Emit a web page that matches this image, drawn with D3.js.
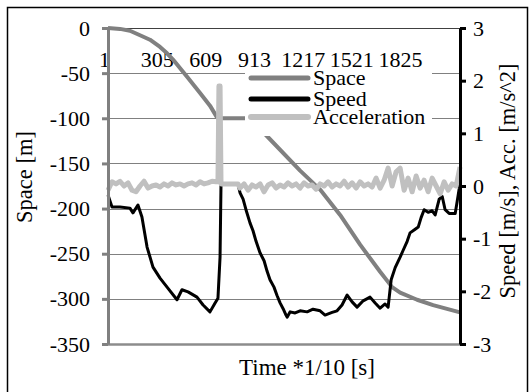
<!DOCTYPE html>
<html>
<head>
<meta charset="utf-8">
<script src="https://cdn.jsdelivr.net/npm/d3@7"></script>
<style>
  body { margin: 0; background: #fff; }
</style>
</head>
<body>
<div id="chart"></div>
<script>
// samples are numbered 1..N (time * 1/10 s)
const N = 2200;
const xTickValues = [1, 305, 609, 913, 1217, 1521, 1825];
const spaceTicks = [0, -50, -100, -150, -200, -250, -300, -350];
const speedTicks = [3, 2, 1, 0, -1, -2, -3];

// Space [m], left axis
const spaceT = [1, 76, 138, 201, 263, 326, 370, 407, 495, 576, 638, 682, 713, 888, 1001, 1201, 1326, 1451, 1576, 1701, 1776, 1826, 1932, 2032, 2200];
const spaceV = [0, -1, -3, -8, -13, -21, -28, -35, -54, -72, -86, -99, -100, -100, -121, -158, -179, -207, -240, -270, -287, -293, -301, -307, -315];

// Speed [m/s], right axis
const speedT = [1, 26, 76, 138, 157, 188, 213, 245, 282, 326, 370, 432, 463, 501, 557, 595, 638, 670, 688, 701, 707, 763, 813,
  826, 845, 863, 888, 907, 926, 951, 976, 995, 1013, 1038, 1057, 1076, 1095, 1113,
  1120, 1139, 1170, 1201, 1245, 1282, 1326, 1357, 1401, 1432, 1463, 1495, 1526, 1557, 1595, 1638, 1670, 1701, 1732, 1751, 1770,
  1795, 1826, 1845, 1870, 1888, 1920, 1939, 1957, 1976, 2001, 2026, 2045, 2070, 2089, 2107, 2132, 2170, 2182, 2195, 2200];
const speedV = [-0.17, -0.40, -0.40, -0.42, -0.51, -0.36, -0.59, -1.16, -1.54, -1.75, -1.92, -2.16, -1.97, -2.01, -2.11, -2.26, -2.39, -2.22, -2.13, -1.35, 0.04, 0.04, 0.04,
  -0.13, -0.25, -0.45, -0.70, -0.85, -1.05, -1.27, -1.42, -1.62, -1.78, -1.92, -2.08, -2.22, -2.33, -2.45,
  -2.49, -2.39, -2.41, -2.37, -2.39, -2.34, -2.37, -2.45, -2.40, -2.37, -2.26, -2.07, -2.20, -2.30, -2.18, -2.11, -2.22, -2.32, -2.24, -2.30, -1.78,
  -1.55, -1.35, -1.22, -1.05, -0.89, -0.82, -0.78, -0.60, -0.45, -0.50, -0.47, -0.55, -0.25, -0.20, -0.45, -0.52, -0.52, -0.30, -0.05, 0.10];

// Acceleration [m/s^2], right axis
const accT = [1, 26, 51, 76, 101, 126, 151, 176, 201, 226, 251, 276, 301, 326, 351, 376, 401, 426, 451, 476, 501, 526, 551, 576, 601, 626, 651, 676, 688, 694, 701, 707,
  813, 826, 851, 876, 901, 926, 951, 976, 1001, 1026, 1051, 1076, 1101, 1126, 1151, 1176, 1201, 1226, 1251, 1276, 1301, 1326, 1351, 1376, 1401, 1426, 1451, 1476,
  1501, 1526, 1551, 1576, 1601, 1626, 1651, 1676, 1701, 1726, 1751, 1776, 1801, 1826, 1851, 1876, 1901, 1926, 1951, 1976, 2001, 2026, 2051, 2076, 2101, 2126, 2151, 2176, 2200];
const accV = [-0.08, 0.08, 0.04, 0.09, 0.00, 0.06, -0.08, -0.11, 0.00, 0.09, -0.04, 0.00, 0.02, -0.02, 0.04, 0.00, 0.06, 0.02, 0.04, 0.00, 0.04, 0.06, 0.02, 0.08, 0.04, 0.06, 0.09, 0.08, 0.08, 1.90, 1.90, 0.04,
  0.04, -0.04, 0.04, -0.08, 0.02, -0.02, 0.04, -0.11, 0.02, 0.06, -0.04, 0.02, -0.02, 0.06, 0.00, 0.04, -0.04, 0.06, 0.00, 0.02, -0.06, 0.04, 0.00, 0.08, -0.02, 0.04, 0.00, 0.09,
  -0.02, 0.06, -0.04, 0.08, 0.00, 0.04, -0.02, 0.15, -0.04, 0.11, 0.34, 0.00, 0.27, 0.34, -0.08, 0.15, -0.11, 0.19, -0.04, 0.11, -0.11, 0.15, 0.00, -0.15, 0.08, -0.08, 0.04, 0.00, 0.36];

const seriesNames = ['Space', 'Speed', 'Acceleration'];
const colors = { Space: '#808080', Speed: '#000000', Acceleration: '#c0c0c0' };
const widths = { Space: 4, Speed: 3, Acceleration: 5 };

const font = '"Liberation Serif", "Times New Roman", serif';

const width = 532;
const height = 392;
const margin = { top: 28, right: 72, bottom: 48, left: 108 };
const w = width - margin.left - margin.right;
const h = height - margin.top - margin.bottom;

const svg = d3.select('#chart')
  .append('svg')
    .attr('width', width)
    .attr('height', height);

// outer frame (bottom edge is off the picture)
svg.append('rect')
  .attr('x', 7.5).attr('y', 7.5)
  .attr('width', 520).attr('height', 400)
  .attr('fill', 'none')
  .attr('stroke', '#000')
  .attr('stroke-width', 1.5);

const g = svg.append('g')
  .attr('transform', `translate(${margin.left}, ${margin.top})`);

const xScale = d3.scaleLinear().domain([1, N]).range([0, w]);
const yLeft = d3.scaleLinear().domain([-350, 0]).range([h, 0]);
const yRight = d3.scaleLinear().domain([-3, 3]).range([h, 0]);

function styleText(sel, size) {
  sel.style('font-family', font)
    .style('font-size', size + 'px')
    .style('fill', '#000');
}

// gridlines
g.append('g')
  .selectAll('line')
  .data(spaceTicks)
  .enter().append('line')
    .attr('x1', 0).attr('x2', w)
    .attr('y1', d => Math.round(yLeft(d)) + 0.5)
    .attr('y2', d => Math.round(yLeft(d)) + 0.5)
    .attr('stroke', d => d === -350 ? '#8c8c8c' : '#808080')
    .attr('stroke-width', d => d === -350 ? 2.5 : 1);

// category labels next to the zero line
const xAxis = g.append('g')
  .call(d3.axisBottom(xScale).tickValues(xTickValues).tickSize(0).tickPadding(23).tickFormat(d3.format('d')));
xAxis.select('.domain').attr('stroke', '#404040').attr('stroke-width', 1);
xAxis.selectAll('text').call(styleText, 22);
xAxis.selectAll('text').filter(d => d === 1).attr('dx', -4);

// series
const line = (t, v, y) => d3.line()
  .x((d, i) => xScale(t[i]))
  .y((d, i) => y(v[i]))(v);

const series = [
  { name: 'Space', path: line(spaceT, spaceV, yLeft) },
  { name: 'Speed', path: line(speedT, speedV, yRight) },
  { name: 'Acceleration', path: line(accT, accV, yRight) }
];

g.append('g')
  .selectAll('path')
  .data(series)
  .enter().append('path')
    .attr('d', d => d.path)
    .attr('fill', 'none')
    .attr('stroke', d => colors[d.name])
    .attr('stroke-width', d => widths[d.name])
    .attr('stroke-linejoin', 'round');

// legend
const legend = g.append('g').attr('transform', 'translate(137, 41)');
legend.append('rect')
  .attr('width', 187).attr('height', 67)
  .attr('fill', '#fff');
const rowY = [9, 30, 48];
const item = legend.selectAll('.item')
  .data(seriesNames)
  .enter().append('g')
    .attr('class', 'item')
    .attr('transform', (d, i) => `translate(0, ${rowY[i]})`);
item.append('line')
  .attr('x1', 6).attr('x2', 63)
  .attr('stroke', d => colors[d])
  .attr('stroke-width', d => Math.max(widths[d], 4) + 1)
  .attr('stroke-linecap', 'round');
item.append('text')
  .attr('x', 68)
  .attr('dy', '0.32em')
  .text(d => d)
  .call(styleText, 22);

// axes
const leftAxis = g.append('g')
  .call(d3.axisLeft(yLeft).tickValues(spaceTicks).tickSize(6).tickSizeOuter(0).tickPadding(12).tickFormat(d => String(d)));
leftAxis.select('.domain').attr('stroke', '#808080').attr('stroke-width', 3);
leftAxis.selectAll('.tick line').attr('stroke', '#808080').attr('stroke-width', 3);
leftAxis.selectAll('text').call(styleText, 22);

const rightAxis = g.append('g')
  .attr('transform', `translate(${w}, 0)`)
  .call(d3.axisRight(yRight).tickValues(speedTicks).tickSize(6).tickSizeOuter(0).tickPadding(7).tickFormat(d => String(d)));
rightAxis.select('.domain').attr('stroke', '#000').attr('stroke-width', 3);
rightAxis.selectAll('.tick line').attr('stroke', '#000').attr('stroke-width', 3);
rightAxis.selectAll('text').call(styleText, 22);

// titles
svg.append('text')
  .attr('transform', 'translate(32, 177) rotate(-90)')
  .attr('text-anchor', 'middle')
  .text('Space [m]')
  .call(styleText, 22.5);

svg.append('text')
  .attr('transform', 'translate(515, 181) rotate(-90)')
  .attr('text-anchor', 'middle')
  .text('Speed [m/s], Acc. [m/s^2]')
  .call(styleText, 22.5);

svg.append('text')
  .attr('x', 307).attr('y', 375)
  .attr('text-anchor', 'middle')
  .text('Time *1/10 [s]')
  .call(styleText, 23);
</script>
</body>
</html>
